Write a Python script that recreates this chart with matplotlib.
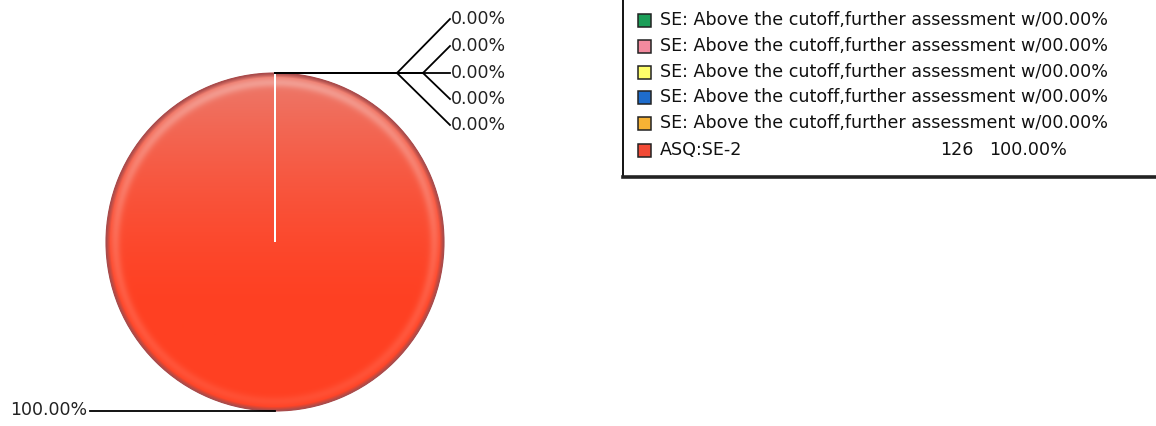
import numpy as np
import matplotlib.pyplot as plt
from matplotlib.patches import Rectangle

# Slices: five empty SE groups and the ASQ:SE-2 group holding every case
categories = ["SE: Above the cutoff,further assessment w/"] * 5 + ["ASQ:SE-2"]
counts = [0, 0, 0, 0, 0, 126]
percents = [0.0, 0.0, 0.0, 0.0, 0.0, 100.0]
colors = ["#1c9e58", "#f38a9e", "#ffff6a", "#1e6ccc", "#f6b234", "#f24a36"]

W, H = 1156, 426
CX, CY, R = 275, H - 242, 169

fig = plt.figure(figsize=(W / 100, H / 100), dpi=100)
ax = fig.add_axes([0, 0, 1, 1])

wedges, _ = ax.pie(counts, colors=colors, startangle=90, counterclock=False,
                   radius=R, center=(CX, CY), frame=True,
                   wedgeprops=dict(linewidth=1.2, edgecolor="white"))
ax.set_xlim(0, W)
ax.set_ylim(0, H)
ax.set_aspect("equal")
ax.axis("off")

# shaded fill for the pie: light at the top, deeper orange-red below, dark rim
xs = np.arange(CX - R - 2, CX + R + 3)
ys = np.arange(CY - R - 2, CY + R + 3)
gx, gy = np.meshgrid(xs, ys)
dist = np.hypot(gx - CX, gy - CY)
t = np.clip((gy - (CY - R)) / (2 * R), 0, 1)  # 0 bottom, 1 top
top = np.array([236, 122, 108]) / 255
bot = np.array([255, 64, 34]) / 255
k = np.clip((t - 0.3) / 0.7, 0, 1) ** 1.5
img = bot[None, None, :] * (1 - k[..., None]) + top[None, None, :] * k[..., None]
edge = R - dist
ring = np.exp(-((edge - 9) / 5) ** 2) * (0.2 + 0.6 * t)
img = img + ring[..., None] * (np.array([1, 1, 1]) - img) * 0.35
dark = np.clip(1 - edge / 4, 0, 1)[..., None]
img = img * (1 - dark) + np.array([0.66, 0.30, 0.30]) * dark
img = np.clip(img, 0, 1)
big = wedges[-1]
im = ax.imshow(img, extent=(xs[0], xs[-1], ys[0], ys[-1]), origin="lower",
               interpolation="bilinear", zorder=1.5)
im.set_clip_path(big)
big.set_edgecolor("#a84848")
big.set_linewidth(0.8)
for w in wedges[:-1]:
    w.set_zorder(3)

# leader lines and value labels
line_kw = dict(color="black", lw=1.3, zorder=4)
zero_idx = [i for i, c in enumerate(counts) if c == 0]
label_x = 450
offsets = [54, 27, 0, -26, -52]
for i, off in zip(zero_idx, offsets):
    w = wedges[i]
    ang = np.deg2rad((w.theta1 + w.theta2) / 2)
    ax_, ay_ = CX + R * np.cos(ang), CY + R * np.sin(ang)
    ly = ay_ + off
    fork = 397 if abs(off) > 40 else 423
    ax.plot([ax_, fork], [ay_, ay_], **line_kw)
    ax.plot([fork, label_x], [ay_, ly], **line_kw)
    ax.text(label_x + 1, ly, f"{percents[i]:.2f}%", ha="left", va="center",
            fontsize=12.5, family="DejaVu Sans", color="#222222")

w = wedges[-1]
ang = np.deg2rad((w.theta1 + w.theta2) / 2)
bx, by = CX + R * np.cos(ang), CY + R * np.sin(ang)
ax.plot([bx, 90], [by, by], **line_kw)
ax.text(87, by + 1, f"{percents[-1]:.2f}%", ha="right", va="center",
        fontsize=12.5, family="DejaVu Sans", color="#222222")

# legend box
ax.add_patch(Rectangle((623, H - 177), 700, 300, facecolor="white",
                       edgecolor="black", lw=1.3, zorder=5, clip_on=True))
ax.plot([623, W], [H - 177, H - 177], color="#222222", lw=2.6, zorder=6)
row_ys = [20, 46, 72, 97, 123, 150]
fs = 12.6
for cat, cnt, pct, col, ry in zip(categories, counts, percents, colors, row_ys):
    y = H - ry
    ax.add_patch(Rectangle((638, y - 6.5), 13, 13, facecolor=col,
                           edgecolor="#222222", lw=1.1, zorder=6))
    if cnt == 0:
        ax.text(660, y, f"{cat}{cnt}{pct:.2f}%", ha="left", va="center",
                fontsize=fs, family="DejaVu Sans", color="#111111", zorder=7)
    else:
        ax.text(660, y, cat, ha="left", va="center", fontsize=fs,
                family="DejaVu Sans", color="#111111", zorder=7)
        ax.text(973, y, f"{cnt}", ha="right", va="center", fontsize=fs,
                family="DejaVu Sans", color="#111111", zorder=7)
        ax.text(989, y, f"{pct:.2f}%", ha="left", va="center", fontsize=fs,
                family="DejaVu Sans", color="#111111", zorder=7)

fig.savefig("out.png", dpi=100, facecolor="white")
